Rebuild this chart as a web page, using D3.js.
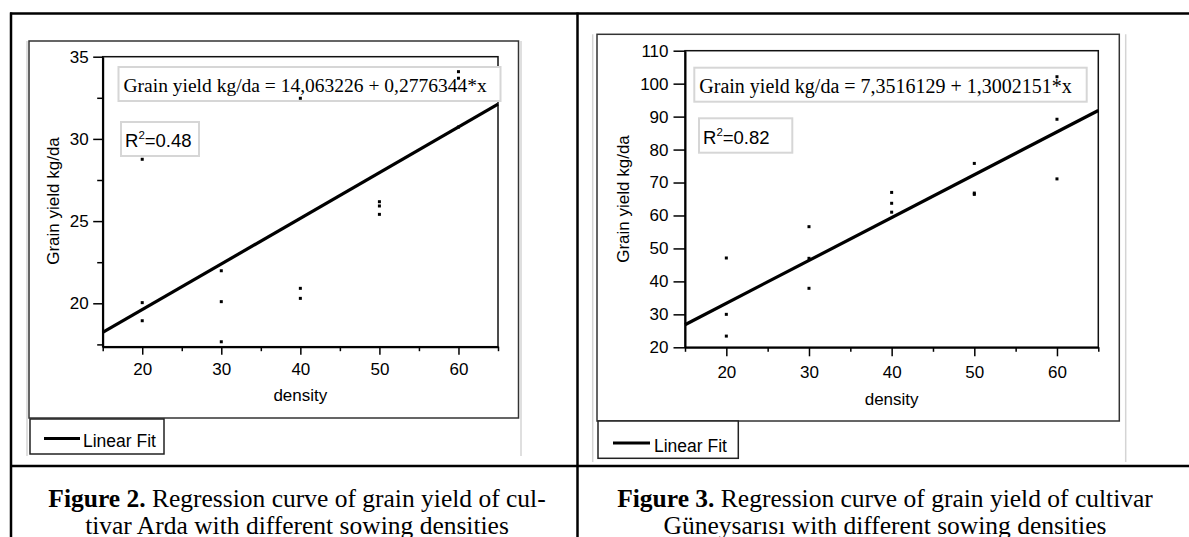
<!DOCTYPE html>
<html>
<head>
<meta charset="utf-8">
<script src="https://cdn.jsdelivr.net/npm/d3@7"></script>
<style>
  html, body { margin: 0; padding: 0; background: #fff; }
  svg { display: block; }
  .sans { font-family: "Liberation Sans", Arial, sans-serif; }
  .serif { font-family: "Liberation Serif", "Times New Roman", serif; }
</style>
</head>
<body>
<svg id="chart" width="1189" height="537"></svg>
<script>
// ---------------- DATA ----------------
const densityA = [20, 20, 20, 30, 30, 30, 40, 40, 40, 50, 50, 50, 60, 60, 60];
const yieldArda = [28.76, 20.04, 18.94, 21.98, 20.10, 17.66, 32.47, 20.91, 20.30, 26.18, 25.92, 25.41, 34.09, 33.69, 30.72];
const densityB = [20, 20, 20, 30, 30, 30, 40, 40, 40, 50, 50, 50, 60, 60, 60];
const yieldGuney = [47.1, 30.0, 23.4, 56.6, 47.0, 37.9, 67.0, 63.7, 61.0, 75.8, 66.8, 66.4, 102.1, 89.2, 71.1];
const fitArda = [14.063226, 0.2776344];    // intercept, slope
const fitGuney = [7.3516129, 1.3002151];
const xDomain = [15, 65];
const xMajorTicks = [20, 30, 40, 50, 60];
const xMinorTicks = [15, 25, 35, 45, 55, 65];
const yDomainArda = [17.36, 35];
const yMajorArda = [20, 25, 30, 35];
const yMinorArda = [17.5, 22.5, 27.5, 32.5];
const yDomainGuney = [20, 110];
const yMajorGuney = [20, 30, 40, 50, 60, 70, 80, 90, 100, 110];
const eqArda = "Grain yield kg/da = 14,063226 + 0,2776344*x";
const eqGuney = "Grain yield kg/da = 7,3516129 + 1,3002151*x";
const r2Arda = "0.48";
const r2Guney = "0.82";
const yTitle = "Grain yield kg/da";
const xTitle = "density";
const legendLabel = "Linear Fit";
const caption2 = ["Figure 2.", " Regression curve of grain yield of cul-", "tivar Arda with different sowing densities"];
const caption3 = ["Figure 3.", " Regression curve of grain yield of cultivar", "Güneysarısı with different sowing densities"];

// ---------------- DRAW ----------------
const svg = d3.select("#chart");

function panel(cfg) {
  const g = svg.append("g");
  // light grey outer guide lines
  g.append("line").attr("x1", cfg.grayL).attr("x2", cfg.grayL).attr("y1", cfg.frame[1]).attr("y2", cfg.grayBottom)
    .attr("stroke", "#d4d4d4").attr("stroke-width", 1.5);
  g.append("line").attr("x1", cfg.grayR).attr("x2", cfg.grayR).attr("y1", cfg.frame[1]).attr("y2", cfg.grayBottom)
    .attr("stroke", "#d4d4d4").attr("stroke-width", 1.5);
  // frame
  g.append("rect").attr("x", cfg.frame[0]).attr("y", cfg.frame[1])
    .attr("width", cfg.frame[2] - cfg.frame[0]).attr("height", cfg.frame[3] - cfg.frame[1])
    .attr("fill", "#fff").attr("stroke", "#333").attr("stroke-width", 1.5);
  // legend box
  g.append("rect").attr("x", cfg.legend[0]).attr("y", cfg.legend[1])
    .attr("width", cfg.legend[2] - cfg.legend[0]).attr("height", cfg.legend[3] - cfg.legend[1])
    .attr("fill", "#fff").attr("stroke", "#222").attr("stroke-width", 1.5);
  g.append("line").attr("x1", cfg.legendLine[0]).attr("x2", cfg.legendLine[1])
    .attr("y1", cfg.legendLine[2]).attr("y2", cfg.legendLine[2])
    .attr("stroke", "#000").attr("stroke-width", 3.2);
  g.append("text").attr("class", "sans").attr("x", cfg.legendText[0]).attr("y", cfg.legendText[1])
    .attr("font-size", 17.5).attr("fill", "#000").text(legendLabel);

  const x = d3.scaleLinear().domain(xDomain).range([cfg.plot[0], cfg.plot[2]]);
  const y = d3.scaleLinear().domain(cfg.yDomain).range([cfg.plot[3], cfg.plot[1]]);

  // plot box (top/right)
  g.append("rect").attr("x", cfg.plot[0]).attr("y", cfg.plot[1])
    .attr("width", cfg.plot[2] - cfg.plot[0]).attr("height", cfg.plot[3] - cfg.plot[1])
    .attr("fill", "none").attr("stroke", "#111").attr("stroke-width", 1.5);

  // minor ticks
  if (cfg.yMinor.length) {
    const ym = g.append("g").attr("transform", `translate(${cfg.plot[0]},0)`)
      .call(d3.axisLeft(y).tickValues(cfg.yMinor).tickSize(5.5).tickFormat(""));
    ym.select(".domain").remove();
    ym.selectAll("line").attr("stroke-width", 1.5);
  }
  const xm = g.append("g").attr("transform", `translate(0,${cfg.plot[3]})`)
    .call(d3.axisBottom(x).tickValues(xMinorTicks).tickSize(4.5).tickFormat(""));
  xm.select(".domain").remove();
  xm.selectAll("line").attr("stroke-width", 1.5);

  // major axes
  const ya = g.append("g").attr("transform", `translate(${cfg.plot[0]},0)`)
    .call(d3.axisLeft(y).tickValues(cfg.yMajor).tickSize(cfg.yTickLen).tickSizeOuter(0).tickPadding(cfg.yPad));
  ya.select(".domain").attr("stroke-width", 2);
  ya.selectAll("line").attr("stroke-width", 1.5);
  ya.selectAll("text").attr("class", "sans").attr("font-size", 17).attr("fill", "#000");

  const xa = g.append("g").attr("transform", `translate(0,${cfg.plot[3]})`)
    .call(d3.axisBottom(x).tickValues(xMajorTicks).tickSize(cfg.xTickLen).tickSizeOuter(0).tickPadding(cfg.xPad));
  xa.select(".domain").attr("stroke-width", 2);
  xa.selectAll("line").attr("stroke-width", 1.5);
  xa.selectAll("text").attr("class", "sans").attr("font-size", 17).attr("fill", "#000");
  ya.attr("font-family", null); xa.attr("font-family", null);

  // axis titles
  g.append("text").attr("class", "sans").attr("font-size", 17)
    .attr("transform", `translate(${cfg.yTitlePos[0]},${cfg.yTitlePos[1]}) rotate(-90)`)
    .attr("text-anchor", "middle").text(yTitle);
  g.append("text").attr("class", "sans").attr("font-size", 17)
    .attr("x", (cfg.plot[0] + cfg.plot[2]) / 2).attr("y", cfg.xTitleY)
    .attr("text-anchor", "middle").text(xTitle);

  // equation box
  g.append("rect").attr("x", cfg.eqBox[0]).attr("y", cfg.eqBox[1])
    .attr("width", cfg.eqBox[2] - cfg.eqBox[0]).attr("height", cfg.eqBox[3] - cfg.eqBox[1])
    .attr("fill", "#fff").attr("stroke", "#d6d6d6").attr("stroke-width", 2);
  g.append("text").attr("class", "serif").attr("font-size", cfg.eqSize)
    .attr("x", cfg.eqBox[0] + 5).attr("y", cfg.eqBox[3] - 9).text(cfg.eq);

  // R2 box
  g.append("rect").attr("x", cfg.r2Box[0]).attr("y", cfg.r2Box[1])
    .attr("width", cfg.r2Box[2] - cfg.r2Box[0]).attr("height", cfg.r2Box[3] - cfg.r2Box[1])
    .attr("fill", "#fff").attr("stroke", "#d6d6d6").attr("stroke-width", 2);
  const rt = g.append("text").attr("class", "sans").attr("font-size", 18.5)
    .attr("x", cfg.r2Box[0] + 4).attr("y", cfg.r2Box[3] - 9);
  rt.append("tspan").text("R");
  rt.append("tspan").attr("font-size", 11.5).attr("dy", -8).text("2");
  rt.append("tspan").attr("dy", 8).text("=" + cfg.r2);

  // points
  g.append("g").selectAll("rect").data(cfg.xs.map((d, i) => [d, cfg.ys[i]])).join("rect")
    .attr("x", d => x(d[0]) - 1.5).attr("y", d => y(d[1]) - 1.5)
    .attr("width", 3).attr("height", 3).attr("fill", "#000");

  // regression line
  const line = d3.line().x(d => x(d)).y(d => y(cfg.fit[0] + cfg.fit[1] * d));
  g.append("path").attr("d", line(xDomain)).attr("fill", "none")
    .attr("stroke", "#000").attr("stroke-width", 3.2);
}

panel({
  grayL: 27, grayR: 521, grayBottom: 456,
  frame: [29, 41, 518.5, 418],
  legend: [30, 419, 164, 454],
  legendLine: [44, 80, 438.5],
  legendText: [83, 446.5],
  plot: [102.7, 56.7, 498, 346.7],
  yDomain: yDomainArda, yMajor: yMajorArda, yMinor: yMinorArda,
  yTickLen: 9.5, yPad: 4.5, xTickLen: 8, xPad: 8,
  yTitlePos: [59, 201], xTitleY: 401,
  eqBox: [118.5, 67, 500.5, 101], eq: eqArda, eqSize: 19.5,
  r2Box: [121, 122, 199, 156], r2: r2Arda,
  xs: densityA, ys: yieldArda, fit: fitArda
});

panel({
  grayL: 592.7, grayR: 1125.7, grayBottom: 462,
  frame: [597, 34.3, 1119.3, 421],
  legend: [598, 421, 738.3, 458.3],
  legendLine: [613, 650, 443],
  legendText: [654, 451.5],
  plot: [685, 50.7, 1098.3, 347.3],
  yDomain: yDomainGuney, yMajor: yMajorGuney, yMinor: [],
  yTickLen: 11.5, yPad: 5, xTickLen: 9, xPad: 10,
  yTitlePos: [629, 199], xTitleY: 405,
  eqBox: [694.3, 67.7, 1086.7, 101.7], eq: eqGuney, eqSize: 20,
  r2Box: [699, 118.3, 792.3, 152.7], r2: r2Guney,
  xs: densityB, ys: yieldGuney, fit: fitGuney
});

// table borders
const tb = svg.append("g").attr("stroke", "#000").attr("stroke-width", 2.5);
tb.append("line").attr("x1", 10).attr("x2", 1189).attr("y1", 13.5).attr("y2", 13.5);
tb.append("line").attr("x1", 11).attr("x2", 11).attr("y1", 12.5).attr("y2", 537);
tb.append("line").attr("x1", 577.5).attr("x2", 577.5).attr("y1", 12.5).attr("y2", 537);
tb.append("line").attr("x1", 10).attr("x2", 1189).attr("y1", 466).attr("y2", 466);

// captions
function caption(cx, lines) {
  const t = svg.append("text").attr("class", "serif").attr("font-size", 25.5)
    .attr("text-anchor", "middle").attr("x", cx).attr("y", 507);
  t.append("tspan").attr("font-weight", "bold").text(lines[0]);
  t.append("tspan").text(lines[1]);
  svg.append("text").attr("class", "serif").attr("font-size", 25.5)
    .attr("text-anchor", "middle").attr("x", cx).attr("y", 533.5).text(lines[2]);
}
caption(297, caption2);
caption(885, caption3);
</script>
</body>
</html>
